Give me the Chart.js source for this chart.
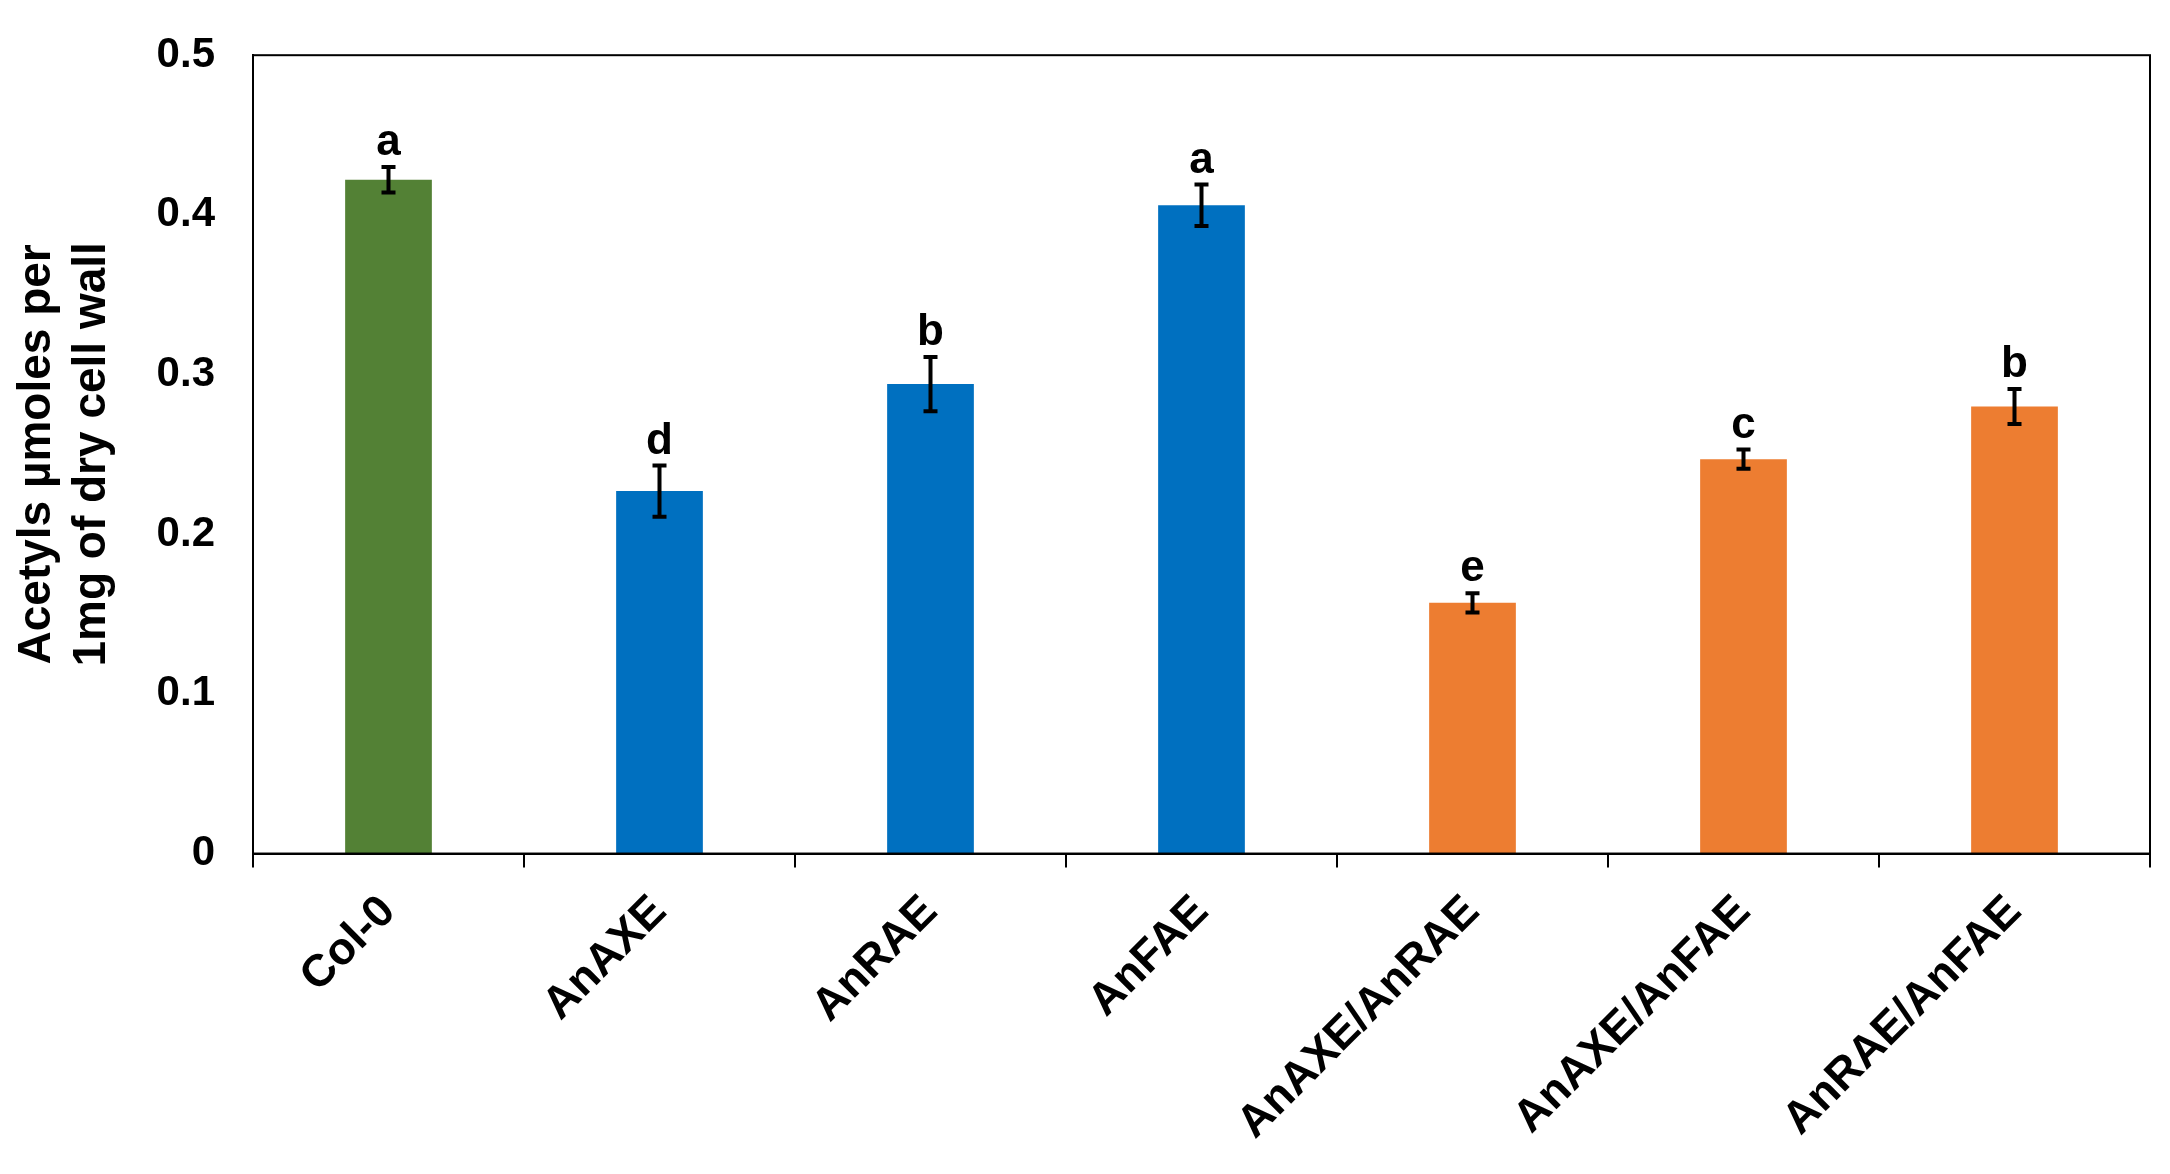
<!DOCTYPE html>
<html>
<head>
<meta charset="utf-8">
<script src="https://cdn.jsdelivr.net/npm/chart.js@4"></script>
<style>
  html, body { margin: 0; padding: 0; background: #fff; }
  #wrap { width: 2170px; height: 1174px; }
</style>
</head>
<body>
<div id="wrap"><canvas id="chart"></canvas></div>
<script>
const categories = ['Col-0', 'AnAXE', 'AnRAE', 'AnFAE', 'AnAXE/AnRAE', 'AnAXE/AnFAE', 'AnRAE/AnFAE'];
const values = [0.422, 0.227, 0.294, 0.406, 0.157, 0.247, 0.280];
const errors = [0.008, 0.016, 0.017, 0.013, 0.006, 0.006, 0.011];
const letters = ['a', 'd', 'b', 'a', 'e', 'c', 'b'];
const barColors = ['#538135', '#0070C0', '#0070C0', '#0070C0', '#ED7D31', '#ED7D31', '#ED7D31'];
const yTicks = [0, 0.1, 0.2, 0.3, 0.4, 0.5];

const fontFamily = '"Liberation Sans", Arial, sans-serif';

// error bars, letters and the frame around the plot
const extras = {
    id: 'extras',
    afterDatasetsDraw(chart) {
        const ctx = chart.ctx;
        const x = chart.scales.x, y = chart.scales.y;
        const area = chart.chartArea;
        ctx.save();
        ctx.strokeStyle = '#000';
        ctx.lineWidth = 4;
        values.forEach((v, i) => {
            const cx = x.getPixelForValue(i);
            const top = y.getPixelForValue(v + errors[i]);
            const bot = y.getPixelForValue(v - errors[i]);
            ctx.beginPath();
            ctx.moveTo(cx, top); ctx.lineTo(cx, bot);
            ctx.moveTo(cx - 7, top); ctx.lineTo(cx + 7, top);
            ctx.moveTo(cx - 7, bot); ctx.lineTo(cx + 7, bot);
            ctx.stroke();
            ctx.fillStyle = '#000';
            ctx.font = 'bold 44px ' + fontFamily;
            ctx.textAlign = 'center';
            ctx.textBaseline = 'bottom';
            ctx.fillText(letters[i], cx, top - 2);
        });
        ctx.lineWidth = 2;
        ctx.strokeRect(area.left, area.top, area.right - area.left, area.bottom - area.top);
        ctx.restore();
    }
};

new Chart(document.getElementById('chart'), {
    type: 'bar',
    data: {
        labels: categories,
        datasets: [{
            data: values,
            backgroundColor: barColors,
            barPercentage: 0.32,
            categoryPercentage: 1
        }]
    },
    options: {
        responsive: true,
        maintainAspectRatio: false,
        animation: false,
        layout: { padding: { top: 33, right: 20, left: 8, bottom: 6 } },
        plugins: { legend: { display: false }, tooltip: { enabled: false } },
        scales: {
            x: {
                grid: { offset: true, drawOnChartArea: false, tickLength: 14, color: '#000', lineWidth: 2 },
                border: { color: '#000', width: 2 },
                ticks: {
                    color: '#000',
                    font: { size: 45, weight: 'bold', family: fontFamily },
                    minRotation: 45, maxRotation: 45, padding: 18
                }
            },
            y: {
                min: 0, max: 0.5,
                afterBuildTicks(axis) { axis.ticks = yTicks.map(v => ({ value: v })); },
                afterFit(axis) { axis.width = 245; },
                grid: { display: false },
                border: { color: '#000', width: 2 },
                ticks: {
                    color: '#000',
                    font: { size: 42, weight: 'bold', family: fontFamily },
                    padding: 30,
                    callback: v => String(v)
                },
                title: {
                    display: true,
                    text: ['Acetyls µmoles per', '1mg of dry cell wall'],
                    color: '#000',
                    font: { size: 46, weight: 'bold', family: fontFamily },
                    padding: 2
                }
            }
        }
    },
    plugins: [extras]
});
</script>
</body>
</html>
